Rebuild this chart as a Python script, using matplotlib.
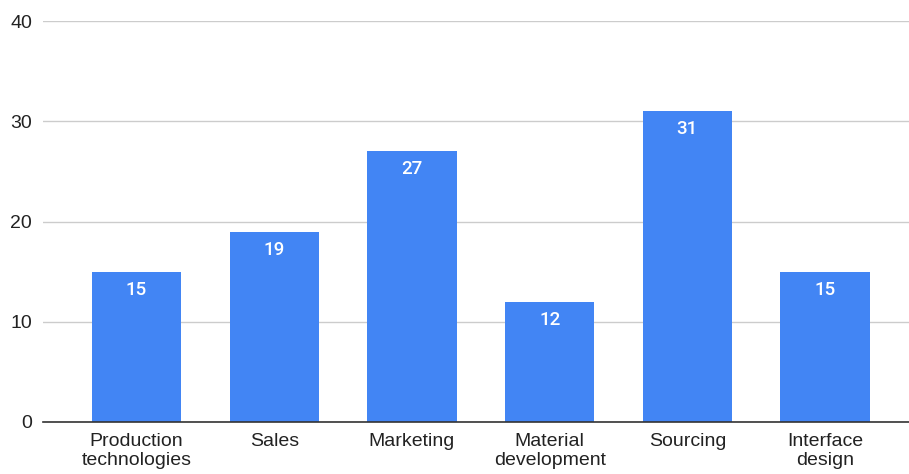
import matplotlib
matplotlib.use("Agg")
import matplotlib.pyplot as plt

categories = ["Production\ntechnologies", "Sales", "Marketing",
              "Material\ndevelopment", "Sourcing", "Interface\ndesign"]
values = [15, 19, 27, 12, 31, 15]
y_ticks = [0, 10, 20, 30, 40]

plt.rcParams['font.family'] = ['Liberation Sans', 'DejaVu Sans']

fig = plt.figure(figsize=(9.09, 4.74), dpi=100)
ax = fig.add_axes([43 / 909, 52 / 474, 1 - 43 / 909, (422 - 21) / 474])

x = list(range(len(categories)))
bars = ax.bar(x, values, width=0.65, color="#4285F4", zorder=3)

for xi, v in zip(x, values):
    ax.annotate(str(v), (xi, v), xytext=(0, -13), textcoords="offset points",
                ha="center", va="center", color="white", fontsize=13.5,
                family=["Roboto", "DejaVu Sans"], fontweight="medium", zorder=4)

ax.set_ylim(0, 40)
ax.set_xlim(-0.68, 5.61)
ax.set_yticks(y_ticks)
ax.set_xticks(x)
ax.set_xticklabels(categories, linespacing=1.15)

ax.yaxis.grid(True, color="#cccccc", linewidth=1.0, zorder=0)
ax.tick_params(axis="both", length=0, labelsize=14, colors="#222222")
ax.tick_params(axis="y", pad=8)
ax.tick_params(axis="x", pad=8)

for side in ["top", "right", "left"]:
    ax.spines[side].set_visible(False)
ax.spines["bottom"].set_color("#333333")
ax.spines["bottom"].set_linewidth(1.2)
ax.spines["bottom"].set_zorder(5)

fig.savefig("out.png", dpi=100)
